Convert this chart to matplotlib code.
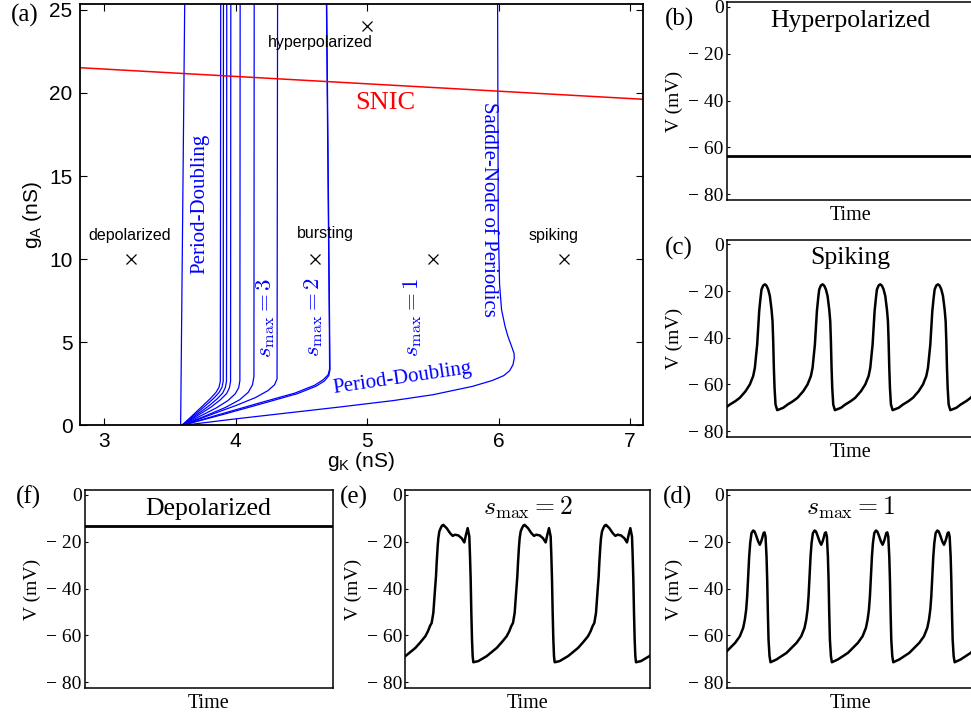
import numpy as np
import matplotlib
matplotlib.use('Agg')
import matplotlib.pyplot as plt

plt.rcParams['font.family'] = 'Liberation Sans'
plt.rcParams['mathtext.fontset'] = 'custom'
plt.rcParams['mathtext.rm'] = 'Liberation Sans'
plt.rcParams['mathtext.it'] = 'Liberation Sans:italic'

SERIF = 'Liberation Serif'
BLUE = '#0000ff'

# ---- (a) bifurcation diagram, gK vs gA (nS) ----
pd_left_x = [3.580, 3.611]
pd_left_y = [0, 25.4]

# fan of period-doubling cascade curves (leftmost to s_max = 2 boundary)
fan_x = [
    [3.588, 3.67, 3.75, 3.81, 3.85, 3.872, 3.882, 3.885],
    [3.588, 3.68, 3.77, 3.83, 3.872, 3.895, 3.904, 3.906],
    [3.588, 3.69, 3.79, 3.855, 3.90, 3.92, 3.929, 3.931],
    [3.588, 3.70, 3.81, 3.88, 3.93, 3.951, 3.96, 3.962],
    [3.588, 3.72, 3.85, 3.94, 3.995, 4.022, 4.031, 4.033],
    [3.588, 3.76, 3.92, 4.03, 4.095, 4.127, 4.138, 4.140],
    [3.588, 3.80, 4.00, 4.15, 4.245, 4.295, 4.314, 4.318],
    [3.588, 3.90, 4.20, 4.45, 4.60, 4.665, 4.703, 4.714, 4.712, 4.690],
    [3.588, 3.92, 4.22, 4.47, 4.61, 4.675, 4.708, 4.717, 4.714, 4.692],
]
fan_y = [
    [0, 0.60, 1.20, 1.65, 2.00, 2.30, 2.65, 25.4],
    [0, 0.60, 1.20, 1.62, 1.98, 2.30, 2.65, 25.4],
    [0, 0.58, 1.15, 1.58, 1.95, 2.28, 2.65, 25.4],
    [0, 0.55, 1.10, 1.53, 1.92, 2.26, 2.65, 25.4],
    [0, 0.53, 1.05, 1.50, 1.90, 2.27, 2.70, 25.4],
    [0, 0.55, 1.08, 1.55, 2.00, 2.45, 2.95, 25.4],
    [0, 0.62, 1.20, 1.68, 2.10, 2.45, 2.80, 25.4],
    [0, 0.72, 1.40, 1.95, 2.42, 2.75, 3.05, 3.40, 6.0, 25.4],
    [0, 0.70, 1.36, 1.92, 2.36, 2.68, 3.00, 3.35, 6.0, 25.4],
]

# lower period-doubling branch joining the saddle-node of periodics
snp_x = [3.588, 4.0, 4.5, 4.8, 5.2, 5.5, 5.8, 5.95, 6.04, 6.085, 6.11, 6.12,
         6.118, 6.10, 6.07, 6.05, 6.023, 6.008, 5.998, 5.993]
snp_y = [0, 0.40, 0.85, 1.12, 1.50, 1.85, 2.35, 2.70, 3.00, 3.30, 3.65, 4.05,
         4.35, 4.75, 5.40, 5.96, 6.97, 8.50, 12.0, 25.4]

snic_x = [2.81, 7.10]
snic_y = [21.52, 19.62]

mark_x = [3.2, 4.6, 5.5, 6.5, 5.0]
mark_y = [10, 10, 10, 10, 24]
region_labels = ['depolarized', 'bursting', 'spiking', 'hyperpolarized']
region_pos = [(3.19, 11.4), (4.68, 11.55), (6.42, 11.4), (4.64, 23.05)]

# ---- voltage traces (one cycle each, mV), time in arbitrary units ----
hyper_v = -63.8
depol_v = -13.2
v_ticks = [0, -20, -40, -60, -80]
v_ticklabels = ['0', '\u2212 20', '\u2212 40', '\u2212 60', '\u2212 80']

spk_t = [0, 18, 31, 48, 61, 78, 91, 101, 106, 109, 113, 119, 123, 126, 131, 136, 141, 146,
         151, 156, 159, 161, 163, 165, 168, 173]
spk_v = [-71, -70, -68.6, -67.1, -65.7, -62.9, -60, -56.4, -52.9, -48.6, -42.9, -28.6, -22.9,
         -19.3, -17.6, -17.1, -17.7, -19.3, -22.1, -27.9, -32.9, -41.4, -52.9, -61.4, -68.6, -71]
spk_period = 173

b2_t = [0, 15, 40, 70, 85, 100, 108, 114, 119, 124, 127, 129, 132, 134, 137, 139, 142, 146,
        150, 154, 164, 174, 182, 189, 199, 209, 217, 222, 227, 232, 234, 236, 238, 240, 242, 244]
b2_v = [-71.5, -71, -68.9, -65.4, -63, -60.4, -58.2, -56, -54.7, -50.4, -44.8, -40.5, -34.8,
        -29, -22, -18.5, -15.6, -14.2, -13.1, -12.8, -14.2, -16.3, -17.5, -17, -17.3, -18.5,
        -20.3, -17, -14.2, -17.8, -26, -36, -50.4, -61.8, -68.9, -71.5]
b2_period = 244

b1_t = [0, 18, 48, 78, 92, 102, 107, 111, 114, 117, 120, 123, 127, 132, 136, 140, 147, 152,
        156, 159, 163, 166, 169, 172, 174, 176, 178, 181, 184]
b1_v = [-71.5, -70.3, -67.5, -63.2, -60.4, -56.8, -53.3, -49, -43.3, -34.8, -26.3, -20.6,
        -16.3, -15.2, -15.6, -17, -19.9, -21.3, -19.9, -18.5, -16.3, -16, -17.8, -26.3, -36.2,
        -50.4, -61.8, -68.9, -71.5]
b1_period = 184


def repeat_cycle(t, v, period, k0, k1):
    ts, vs = [], []
    for k in range(k0, k1 + 1):
        ts.append(np.asarray(t[:-1], float) + k * period)
        vs.append(np.asarray(v[:-1], float))
    return np.concatenate(ts), np.concatenate(vs)


W, H = 971, 715
fig = plt.figure(figsize=(W / 100, H / 100), dpi=100)


def box(l, t, r, b):
    return [l / W, 1 - b / H, (r - l) / W, (b - t) / H]


# ================= panel (a) =================
ax = fig.add_axes(box(79.5, 4, 643, 425.5))
ax.plot(pd_left_x, pd_left_y, color=BLUE, lw=0.9)
for xs, ys in zip(fan_x, fan_y):
    ax.plot(xs, ys, color=BLUE, lw=0.9)
ax.plot(snp_x, snp_y, color=BLUE, lw=0.9)
ax.plot(snic_x, snic_y, color='#ff0000', lw=1.1)
ax.plot(mark_x, mark_y, 'x', color='black', ms=7, mew=0.9)
for lab, (x, y) in zip(region_labels, region_pos):
    ax.text(x, y, lab, fontsize=11.5, ha='center', va='center')

ax.text(5.14, 19.4, 'SNIC', color='#ff0000', family=SERIF, fontsize=19, ha='center', va='center')
ax.text(3.726, 13.3, 'Period-Doubling', color=BLUE, family=SERIF, fontsize=15,
        rotation=90, ha='center', va='center')
ax.text(5.925, 13.0, 'Saddle-Node of Periodics', color=BLUE, family=SERIF, fontsize=15,
        rotation=-90, ha='center', va='center')
ax.text(5.27, 2.85, 'Period-Doubling', color=BLUE, family=SERIF, fontsize=15,
        rotation=8.3, rotation_mode='anchor', ha='center', va='center')
for x, n in [(4.225, 3), (4.593, 2), (5.342, 1)]:
    ax.text(x, 6.5, r'$s_{\mathrm{max}}=%d$' % n, color=BLUE, fontsize=16.5,
            rotation=90, ha='center', va='center', math_fontfamily='cm')

ax.set_xlim(2.81, 7.10)
ax.set_ylim(0, 25.35)
ax.set_xticks([3, 4, 5, 6, 7])
ax.set_yticks([0, 5, 10, 15, 20, 25])
ax.tick_params(direction='in', top=True, right=True, length=5, width=0.8,
               labelsize=15, pad=5)
for s in ax.spines.values():
    s.set_linewidth(1.3)
ax.set_xlabel(r'g$_\mathrm{K}$ (nS)', fontsize=15, labelpad=-1)
ax.set_ylabel(r'g$_\mathrm{A}$ (nS)', fontsize=15, labelpad=4)


# ================= small trace panels =================
def trace_panel(px_box, title, math_title=False):
    a = fig.add_axes(box(*px_box))
    wpx = px_box[2] - px_box[0]
    hpx = px_box[3] - px_box[1]
    a.set_ylim(-82.5, 2.1)
    a.set_yticks(v_ticks)
    a.set_yticklabels(v_ticklabels, family=SERIF)
    a.set_xticks([])
    a.tick_params(axis='y', direction='in', length=2.5, width=0.8, labelsize=14, pad=2)
    for s in a.spines.values():
        s.set_linewidth(1.1)
    if math_title:
        a.text(0.5, 1 - 24.5 / hpx, title, transform=a.transAxes, fontsize=18.5,
               ha='center', va='baseline', math_fontfamily='cm')
    else:
        a.text(0.5, 1 - 24.5 / hpx, title, transform=a.transAxes, fontsize=18.5,
               ha='center', va='baseline', family=SERIF)
    a.text(0.5, -20 / hpx, 'Time', transform=a.transAxes, fontsize=14.5,
           ha='center', va='baseline', family=SERIF)
    a.text(-52 / wpx, 0.5, 'V (mV)', transform=a.transAxes, fontsize=14,
           ha='center', va='center', rotation=90, family=SERIF)
    return a


# (b) hyperpolarized
axb = trace_panel((726.5, 2, 974, 200), 'Hyperpolarized')
axb.plot([0, 1], [hyper_v, hyper_v], color='black', lw=2)
axb.set_xlim(0, 1)

# (c) spiking
axc = trace_panel((726.5, 239.5, 974, 437), 'Spiking')
t, v = repeat_cycle(spk_t, spk_v, spk_period, -1, 3)
axc.plot(t, v, color='black', lw=1.8)
axc.set_xlim(-152, 590)

# (f) depolarized
axf = trace_panel((84.5, 490, 332.5, 688), 'Depolarized')
axf.plot([0, 1], [depol_v, depol_v], color='black', lw=2)
axf.set_xlim(0, 1)

# (e) s_max = 2
axe = trace_panel((405, 490, 650, 688), r'$s_{\mathrm{max}}=2$', math_title=True)
t, v = repeat_cycle(b2_t, b2_v, b2_period, -1, 2)
axe.plot(t, v, color='black', lw=1.8)
axe.set_xlim(-205, 530)

# (d) s_max = 1
axd = trace_panel((726.5, 490, 974, 688), r'$s_{\mathrm{max}}=1$', math_title=True)
t, v = repeat_cycle(b1_t, b1_v, b1_period, -1, 3)
axd.plot(t, v, color='black', lw=1.8)
axd.set_xlim(-132, 610)

# panel letters
for lab, (x, y) in {'(a)': (25, 15), '(b)': (679, 19), '(c)': (679, 248),
                    '(f)': (28, 497), '(e)': (354, 497), '(d)': (677, 497)}.items():
    fig.text(x / W, 1 - y / H, lab, fontsize=18, family=SERIF, ha='center', va='center')

fig.savefig('out.png', dpi=100)
